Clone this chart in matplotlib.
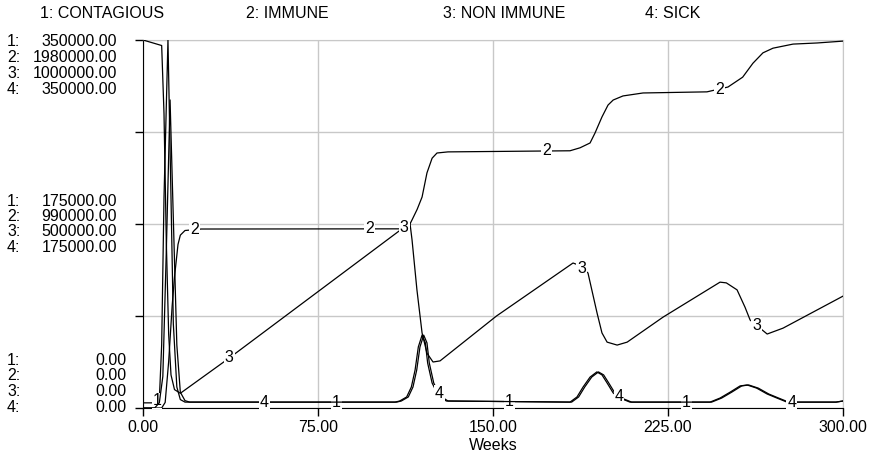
import numpy as np
import matplotlib.pyplot as plt

plt.rcParams['font.family'] = ['Liberation Sans', 'DejaVu Sans']
plt.rcParams['font.size'] = 11.5

# series names and the scale each one is plotted against
names = ['CONTAGIOUS', 'IMMUNE', 'NON IMMUNE', 'SICK']
scale_max = [350000, 1980000, 1000000, 350000]

# 1: contagious people
contagious_weeks = [0, 4.5, 7, 8, 9, 10.7, 12, 13, 14.5, 16, 18, 108, 110, 113, 115, 116.6, 118,
                    119.6, 121, 122, 123.9, 125, 127, 130, 183, 186, 188.6, 191.6, 194.5, 196.7,
                    198.9, 201.5, 204.4, 208.7, 243, 247.3, 251.6, 255.9, 258.9, 263, 267.5,
                    271.7, 276, 297, 300]
contagious = [4900, 4900, 8000, 60000, 200000, 350000, 200000, 80000, 20000, 8000, 5600, 5600,
              6650, 10500, 19950, 36050, 58100, 69300, 61950, 42700, 23800, 18900, 11000, 6650,
              5600, 10500, 19950, 29400, 34300, 31500, 23800, 14350, 9450, 5600, 5600, 9450,
              15050, 21000, 21900, 18900, 13300, 9450, 5600, 5600, 6650]

# 2: immune people
immune_weeks = [0, 8, 9.5, 11, 12.5, 13.5, 15, 16, 18, 25, 112, 114, 115.3, 117.5, 119.6, 121.7,
                123.9, 126, 130.7, 183, 187.3, 191.6, 193.7, 196.7, 199.3, 201.5, 205.7, 214.3,
                241.7, 250.7, 257, 261.4, 265.7, 270, 278.6, 288.9, 300]
immune = [0, 0, 30000, 250000, 550000, 705000, 880000, 930000, 955000, 963000, 964000, 980000,
          1012000, 1069000, 1135000, 1265000, 1344000, 1372000, 1378000, 1384000, 1400000,
          1426000, 1479000, 1566000, 1630000, 1657000, 1679000, 1695000, 1701000, 1727000,
          1780000, 1855000, 1911000, 1936000, 1958000, 1964000, 1974000]

# 3: non immune people
non_immune_weeks = [0, 8, 9, 10, 11, 12, 13.5, 16, 37, 114.4, 115.3, 117.4, 119.6, 121.7, 124.3,
                    127.3, 151.5, 184.3, 186, 190.7, 194.6, 196.7, 198.9, 203.2, 207.5, 222.9,
                    247.3, 250, 254.6, 258, 260.2, 267.5, 274.3, 300]
non_immune = [1000000, 985000, 800000, 450000, 200000, 90000, 50000, 40000, 136000, 503000,
              457000, 321000, 204000, 149000, 125000, 128000, 250000, 394000, 390000, 367000,
              258000, 204000, 179000, 171000, 179000, 247000, 342000, 340000, 321000, 274000,
              239000, 201000, 217000, 304000]

# 4: sick people
sick_weeks = [0, 5, 7, 8.5, 10, 11.6, 13, 14.5, 16, 18, 20, 108.7, 110.7, 113.7, 115.7, 117.3,
              118.7, 120.3, 121.7, 122.7, 124.6, 125.7, 127.7, 130.7, 183.7, 186.7, 189.3,
              192.3, 195.2, 197.4, 199.6, 202.2, 205.1, 209.4, 243.7, 248, 252.3, 256.6,
              259.6, 263.7, 268.2, 272.4, 276.7, 297, 300]
sick = [0, 0, 5000, 30000, 150000, 293000, 180000, 60000, 15000, 7000, 5600, 5600, 6650, 10500,
        19950, 36050, 58100, 69300, 61950, 42700, 23800, 18900, 11000, 6650, 5600, 10500, 19950,
        29400, 34300, 31500, 23800, 14350, 9450, 5600, 5600, 9450, 15050, 21000, 21900, 18900,
        13300, 9450, 5600, 5600, 6650]

# weeks at which each series carries its number tag
tag_weeks = [[6, 83, 157, 233], [22, 97, 173, 247], [37, 112, 188, 263], [52, 127, 204, 278]]

series = [(contagious_weeks, contagious), (immune_weeks, immune),
          (non_immune_weeks, non_immune), (sick_weeks, sick)]

fig = plt.figure(figsize=(8.74, 4.59), dpi=100)
ax = fig.add_axes([143 / 874, 1 - 408 / 459, 700 / 874, 368 / 459])

axes = [ax] + [ax.twinx() for _ in range(3)]
grid_c = '#c8c8c8'

for i, (a, (w, v)) in enumerate(zip(axes, series)):
    a.set_ylim(0, scale_max[i])
    a.set_xlim(0, 300)
    a.plot(w, v, color='black', lw=0.9, zorder=3)
    for tw in tag_weeks[i]:
        a.text(tw, np.interp(tw, w, v), str(i + 1), ha='center', va='center',
               zorder=4, bbox=dict(facecolor='white', edgecolor='none', pad=0.6))
    if i > 0:
        a.set_yticks([])
        for s in a.spines.values():
            s.set_visible(False)
        a.patch.set_visible(False)

# grid and frame on the base axes
ax.set_xticks([0, 75, 150, 225, 300])
ax.set_xticklabels(['%.2f' % t for t in [0, 75, 150, 225, 300]])
ax.set_yticks(np.linspace(0, scale_max[0], 5))
ax.set_yticklabels([])
ax.grid(True, color=grid_c, lw=1, zorder=0)
ax.set_axisbelow(True)
ax.tick_params(direction='out', length=6, width=1, color='black', pad=3)
ax.spines['top'].set_color(grid_c)
ax.spines['right'].set_color(grid_c)
ax.set_xlabel('Weeks', labelpad=2)

# per-series scale labels down the left side
groups = [(1.0, [41.5, 57.5, 73.5, 89.5], 117),
          (0.5, [201, 216.5, 232, 247.5], 117),
          (0.0, [360.5, 376, 392, 408], 126)]
for frac, ys, xr in groups:
    for i, y in enumerate(ys):
        fig.text(7 / 874, 1 - y / 459, '%d:' % (i + 1), ha='left', va='center')
        fig.text(xr / 874, 1 - y / 459, '%.2f' % (scale_max[i] * frac), ha='right', va='center')

# header with the series names
for i, x in enumerate([40, 246, 443, 645]):
    fig.text(x / 874, 1 - 13 / 459, '%d: %s' % (i + 1, names[i]), ha='left', va='center')

fig.savefig('out.png', dpi=100)
